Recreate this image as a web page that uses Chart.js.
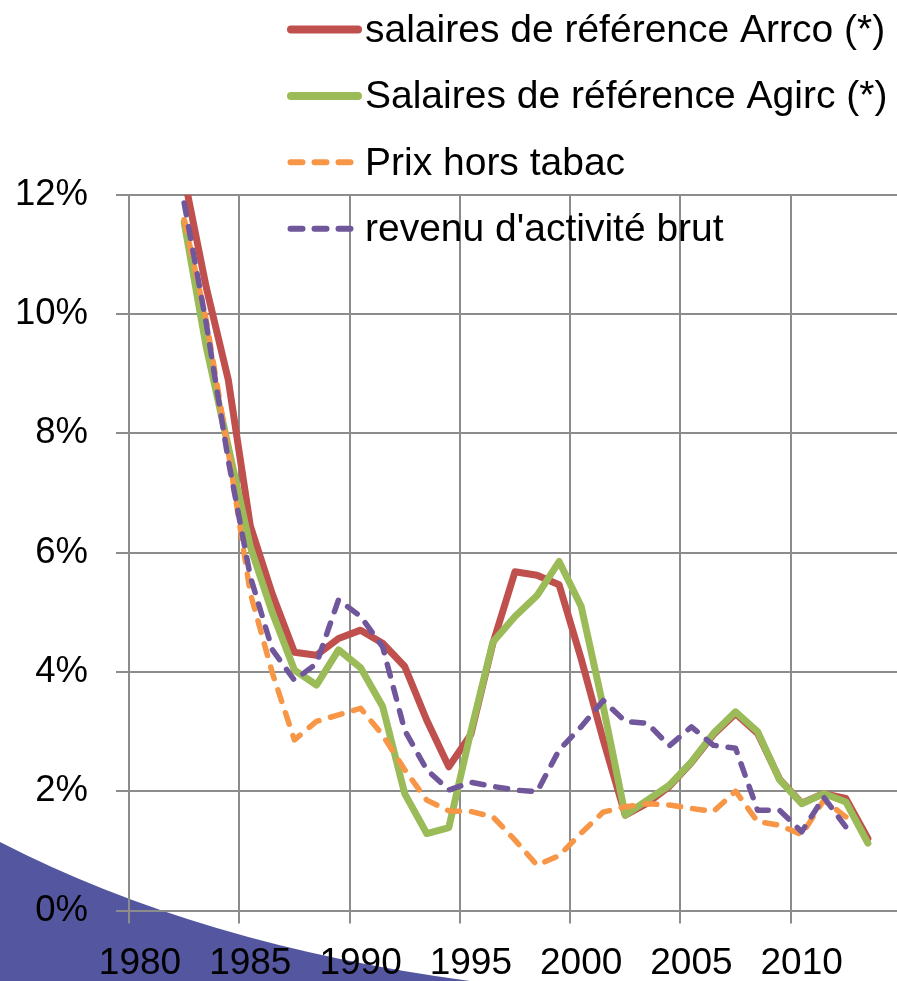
<!DOCTYPE html>
<html><head><meta charset="utf-8">
<script src="https://cdn.jsdelivr.net/npm/chart.js@4/dist/chart.umd.min.js"></script>
<style>html,body{margin:0;padding:0;background:#fff;overflow:hidden}canvas{display:block}</style>
</head><body>
<canvas id="c" width="897" height="981"></canvas>
<script>
const years = [1982,1983,1984,1985,1986,1987,1988,1989,1990,1991,1992,1993,1994,1995,1996,1997,1998,1999,2000,2001,2002,2003,2004,2005,2006,2007,2008,2009,2010,2011,2012,2013];
const arrco = [12.3,10.45,8.9,6.45,5.3,4.33,4.28,4.56,4.70,4.48,4.09,3.19,2.41,2.95,4.48,5.68,5.62,5.46,4.22,2.86,1.60,1.80,2.08,2.48,2.95,3.30,2.97,2.20,1.80,1.96,1.88,1.21];
const agirc = [11.54,9.45,7.78,6.10,4.99,4.03,3.78,4.37,4.07,3.42,1.96,1.29,1.39,3.0,4.50,4.93,5.28,5.85,5.10,3.42,1.60,1.85,2.10,2.49,2.97,3.33,3.0,2.19,1.79,1.96,1.82,1.13];
const prix = [11.58,9.9,7.7,5.32,3.98,2.86,3.17,3.28,3.39,2.94,2.36,1.85,1.67,1.66,1.57,1.18,0.76,0.92,1.30,1.65,1.74,1.79,1.77,1.71,1.66,2.0,1.49,1.43,1.27,1.85,1.57,null];
const revenu = [11.86,9.85,7.55,5.6,4.37,3.86,4.14,5.21,4.93,4.42,3.02,2.36,2.02,2.15,2.08,2.02,1.99,2.69,3.08,3.52,3.17,3.14,2.76,3.08,2.77,2.72,1.68,1.68,1.32,1.90,1.40,null];
const yTicks = [0,2,4,6,8,10,12];
const xTicks = [1980,1985,1990,1995,2000,2005,2010];
const labels = ['salaires de référence Arrco (*)','Salaires de référence Agirc (*)','Prix hors tabac',"revenu d'activité brut"];

const FONT = "'Liberation Sans', Arial, sans-serif";
const toPts = arr => years.map((y, i) => ({ x: y + 0.5, y: arr[i] }));

const bgShape = {
  id: 'bgShape',
  beforeDraw(chart) {
    const ctx = chart.ctx;
    ctx.save();
    ctx.fillStyle = '#5457A0';
    ctx.beginPath();
    ctx.moveTo(0, 842);
    ctx.quadraticCurveTo(200, 945, 470, 981);
    ctx.lineTo(0, 981);
    ctx.closePath();
    ctx.fill();
    ctx.restore();
  }
};

const customLegend = {
  id: 'customLegend',
  afterDraw(chart) {
    const ctx = chart.ctx;
    ctx.save();
    chart.data.datasets.forEach((ds, i) => {
      const cy = 29.5 + i * 66.4;
      ctx.beginPath();
      ctx.strokeStyle = ds.borderColor;
      ctx.lineCap = 'round';
      if (ds.borderDash && ds.borderDash.length) {
        ctx.lineWidth = 6;
        ctx.setLineDash(ds.borderDash);
        ctx.moveTo(290.5, cy);
        ctx.lineTo(352, cy);
      } else {
        ctx.lineWidth = 8;
        ctx.setLineDash([]);
        ctx.moveTo(291, cy);
        ctx.lineTo(358, cy);
      }
      ctx.stroke();
      ctx.setLineDash([]);
      ctx.fillStyle = '#000';
      ctx.font = '39px ' + FONT;
      ctx.textBaseline = 'alphabetic';
      ctx.textAlign = 'left';
      ctx.fillText(ds.label, 365, cy + 12.3);
    });
    ctx.restore();
  }
};

new Chart(document.getElementById('c'), {
  type: 'line',
  data: {
    datasets: [
      { label: labels[0], data: toPts(arrco), borderColor: '#C0504D', borderWidth: 7, order: 4 },
      { label: labels[1], data: toPts(agirc), borderColor: '#9BBB59', borderWidth: 7, order: 3 },
      { label: labels[2], data: toPts(prix), borderColor: '#F79646', borderWidth: 5.5, borderDash: [12, 12], order: 2 },
      { label: labels[3], data: toPts(revenu), borderColor: '#70579B', borderWidth: 5.5, borderDash: [12, 12], order: 1 }
    ].map(d => Object.assign(d, { pointRadius: 0, tension: 0, fill: false, borderCapStyle: 'round', borderJoinStyle: 'round', clip: 0, spanGaps: false }))
  },
  options: {
    responsive: false,
    animation: false,
    devicePixelRatio: 1,
    layout: { padding: { top: 194.7, left: 0, right: 0, bottom: 0 } },
    plugins: { legend: { display: false }, tooltip: { enabled: false } },
    scales: {
      x: {
        type: 'linear', min: 1980, max: 2014.82,
        afterBuildTicks: s => { s.ticks = xTicks.map(v => ({ value: v })); },
        afterFit: s => { s.height = 70.5; },
        ticks: { autoSkip: false, maxRotation: 0, minRotation: 0, padding: 18, labelOffset: 11, color: '#000', font: { family: FONT, size: 37 }, callback: v => String(v) },
        grid: { color: '#8c8c8c', lineWidth: 2, tickLength: 13, drawTicks: true },
        border: { display: false }
      },
      y: {
        type: 'linear', min: 0, max: 12,
        afterBuildTicks: s => { s.ticks = yTicks.map(v => ({ value: v })); },
        afterFit: s => { s.width = 129; },
        ticks: { padding: 28, color: '#000', font: { family: FONT, size: 36.5 }, callback: v => v + '%' },
        grid: { color: '#8c8c8c', lineWidth: 2, tickLength: 13, drawTicks: true },
        border: { display: false }
      }
    }
  },
  plugins: [bgShape, customLegend]
});
</script>
</body></html>
